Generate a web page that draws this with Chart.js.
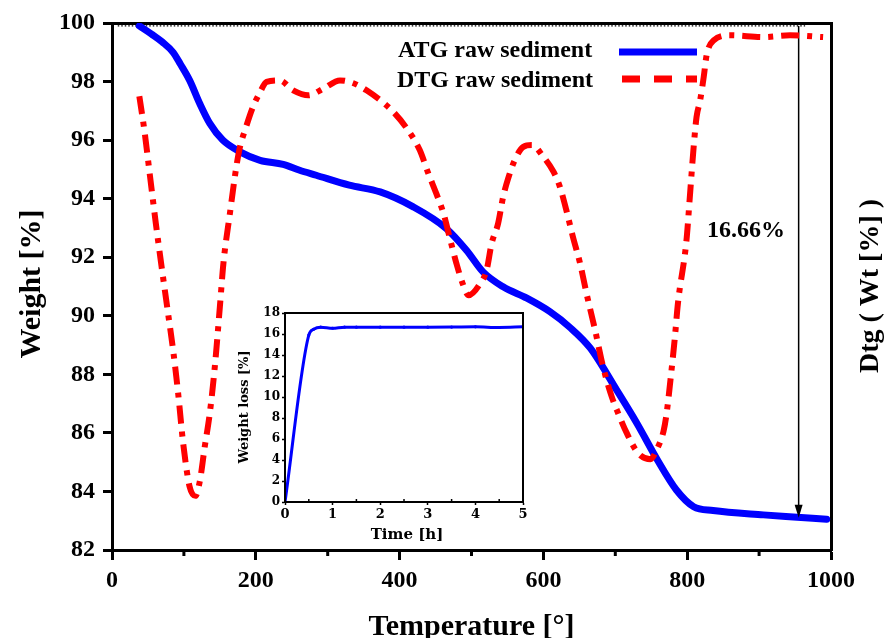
<!DOCTYPE html>
<html><head><meta charset="utf-8">
<script src="https://cdn.jsdelivr.net/npm/chart.js@4"></script>
<style>
html,body{margin:0;padding:0;background:#fff;}
#wrap{position:relative;width:884px;height:638px;overflow:hidden;}
#main{position:absolute;left:0;top:0;}
#inset{position:absolute;left:230px;top:300px;}
</style></head><body>
<div id="wrap">
<canvas id="main" width="884" height="638"></canvas>
<canvas id="inset" width="300" height="250"></canvas>
</div>
<script>
// ---- Main chart data ----
const temperatureATG = [38, 55, 70, 85, 95, 108, 122, 136, 154, 178, 206, 238, 261, 284, 330, 373, 419, 465, 493, 516, 544, 577, 609, 637, 665, 702, 730, 758, 785, 809, 836, 906, 953, 994];
const weightATG = [99.9, 99.62, 99.35, 99.0, 98.6, 98.04, 97.25, 96.57, 96.0, 95.6, 95.31, 95.17, 94.97, 94.8, 94.46, 94.23, 93.72, 92.98, 92.24, 91.5, 90.99, 90.6, 90.14, 89.6, 88.9, 87.46, 86.33, 85.1, 84.05, 83.48, 83.35, 83.2, 83.12, 83.05];

const temperatureDTG = [38, 45, 53, 61, 69, 78, 85, 92, 99, 108, 116, 122, 129, 136, 143, 150, 155, 164, 173, 178, 185, 196, 205, 215, 233, 252, 273, 294, 317, 335, 354, 389, 410, 428, 440, 451, 461, 470, 479, 488, 496, 512, 521, 528, 537, 544, 551, 560, 572, 584, 600, 614, 623, 632, 641, 651, 660, 672, 683, 695, 704, 716, 732, 749, 758, 767, 771, 778, 783, 787, 799, 804, 809, 813, 818, 823, 827, 837, 860, 906, 943, 989];
const valueDTG = [97.5, 96.34, 94.74, 93.15, 91.67, 90.08, 88.83, 87.35, 85.64, 84.16, 83.85, 84.33, 85.53, 86.67, 88.26, 90.3, 91.8, 93.5, 95.1, 95.77, 96.34, 97.13, 97.59, 97.99, 98.04, 97.7, 97.53, 97.76, 98.04, 97.95, 97.7, 97.02, 96.4, 95.66, 94.86, 94.18, 93.5, 92.64, 91.79, 91.08, 90.7, 91.1, 91.56, 92.47, 93.15, 94.06, 94.69, 95.31, 95.77, 95.83, 95.43, 94.92, 94.4, 93.6, 92.7, 91.79, 90.76, 89.5, 88.26, 87.24, 86.67, 85.99, 85.3, 85.1, 85.45, 86.05, 86.6, 88.1, 89.3, 90.4, 92.58, 94.17, 95.77, 96.79, 97.36, 98.16, 98.9, 99.41, 99.58, 99.52, 99.58, 99.52];

// reference (dotted) line & arrow marking the 16.66% loss
const refLineTemps = [8, 964];
const refLineLevel = 99.9;
const arrowTemp = 955;
const arrowFrom = 99.9;
const arrowTo = 83.1;
const lossLabel = "16.66%";

const xTicks = [0, 200, 400, 600, 800, 1000];
const xMinorTicks = [100, 300, 500, 700, 900];
const yTicks = [82, 84, 86, 88, 90, 92, 94, 96, 98, 100];

// ---- Inset data ----
const insetTime = [0, 0.5, 0.6, 0.75, 1, 1.25, 1.5, 2, 2.5, 3, 3.5, 4, 4.5, 5];
const insetLoss = [0, 15.9, 16.45, 16.65, 16.55, 16.65, 16.65, 16.65, 16.65, 16.65, 16.66, 16.68, 16.62, 16.68];
const insetXTicks = [0, 1, 2, 3, 4, 5];
const insetYTicks = [0, 2, 4, 6, 8, 10, 12, 14, 16, 18];

const SERIF = "'Liberation Serif', 'Times New Roman', serif";
const DJV = "'DejaVu Serif', serif";

const mainDecor = {
  id: 'mainDecor',
  afterDraw(chart) {
    const ctx = chart.ctx, xs = chart.scales.x, ys = chart.scales.y, ca = chart.chartArea;
    ctx.save();
    // minor x ticks
    ctx.strokeStyle = '#000'; ctx.lineWidth = 3;
    xMinorTicks.forEach(v => {
      const px = xs.getPixelForValue(v);
      ctx.beginPath(); ctx.moveTo(px, ca.bottom); ctx.lineTo(px, ca.bottom + 6); ctx.stroke();
    });
    // arrow head
    const ax = xs.getPixelForValue(arrowTemp), ay = ys.getPixelForValue(arrowTo);
    ctx.fillStyle = '#000';
    ctx.beginPath(); ctx.moveTo(ax, ay); ctx.lineTo(ax - 4, ay - 13); ctx.lineTo(ax + 4, ay - 13); ctx.closePath(); ctx.fill();
    // axis titles
    ctx.fillStyle = '#000';
    ctx.font = "bold 30px " + SERIF;
    ctx.textAlign = 'center'; ctx.textBaseline = 'alphabetic';
    ctx.fillText('Temperature [°]', (ca.left + ca.right) / 2, 635);
    ctx.save(); ctx.translate(40, 284); ctx.rotate(-Math.PI / 2);
    ctx.fillText('Weight [%]', 0, 0); ctx.restore();
    ctx.save(); ctx.font = "bold 28px " + SERIF; ctx.translate(878, 286); ctx.rotate(-Math.PI / 2);
    ctx.fillText('Dtg ( Wt [%] )', 0, 0); ctx.restore();
    // legend
    ctx.font = "bold 24px " + SERIF; ctx.textAlign = 'left';
    ctx.fillText('ATG raw sediment', 398, 57);
    ctx.fillText('DTG raw sediment', 397, 87);
    ctx.lineCap = 'butt';
    ctx.strokeStyle = '#0000FF'; ctx.lineWidth = 7;
    ctx.beginPath(); ctx.moveTo(619, 52); ctx.lineTo(697, 52); ctx.stroke();
    ctx.strokeStyle = '#FF0000'; ctx.setLineDash([18, 14]);
    ctx.beginPath(); ctx.moveTo(622, 79); ctx.lineTo(697, 79); ctx.stroke();
    ctx.setLineDash([]);
    // annotation
    ctx.fillStyle = '#000';
    ctx.fillText(lossLabel, 707, 237);
    ctx.restore();
  }
};

const mainData = {
  datasets: [
    { label: 'DTG raw sediment', order: 0,
      data: temperatureDTG.map((t, i) => ({ x: t, y: valueDTG[i] })),
      borderColor: '#FF0000', borderWidth: 6, borderDash: [18, 8, 5, 8], borderCapStyle: 'butt',
      pointRadius: 0, cubicInterpolationMode: 'monotone', fill: false },
    { label: 'ATG raw sediment', order: 1,
      data: temperatureATG.map((t, i) => ({ x: t, y: weightATG[i] })),
      borderColor: '#0000FF', borderWidth: 7, borderCapStyle: 'round',
      pointRadius: 0, cubicInterpolationMode: 'monotone', fill: false },
    { label: 'ref', order: 2,
      data: refLineTemps.map(t => ({ x: t, y: refLineLevel })),
      borderColor: '#000', borderWidth: 1.3, borderDash: [1.5, 2], pointRadius: 0, fill: false },
    { label: 'arrow', order: 2,
      data: [{ x: arrowTemp, y: arrowFrom }, { x: arrowTemp, y: arrowTo + 0.3 }],
      borderColor: '#000', borderWidth: 1.5, pointRadius: 0, fill: false }
  ]
};

new Chart(document.getElementById('main'), {
  type: 'line',
  data: mainData,
  options: {
    responsive: false, animation: false,
    layout: { padding: 0 },
    plugins: { legend: { display: false }, tooltip: { enabled: false } },
    scales: {
      x: { type: 'linear', position: 'bottom', min: 0, max: 1000,
        afterBuildTicks(s) { s.ticks = xTicks.map(v => ({ value: v })); },
        ticks: { font: { family: SERIF, size: 24, weight: 'bold' }, color: '#000', padding: 6, maxRotation: 0,
          callback: v => String(v) },
        grid: { drawOnChartArea: false, tickLength: 10, tickWidth: 3, tickColor: '#000' },
        border: { color: '#000', width: 3 },
        afterFit(s) { s.height = 88; } },
      x2: { type: 'linear', position: 'top', min: 0, max: 1000,
        ticks: { display: false }, grid: { display: false, drawTicks: false },
        border: { color: '#000', width: 3, display: true },
        afterFit(s) { s.height = 23; } },
      y: { type: 'linear', position: 'left', min: 82, max: 100,
        afterBuildTicks(s) { s.ticks = yTicks.map(v => ({ value: v })); },
        ticks: { font: { family: SERIF, size: 24, weight: 'bold' }, color: '#000', padding: 8,
          callback: v => String(v) },
        grid: { drawOnChartArea: false, tickLength: 9, tickWidth: 3, tickColor: '#000' },
        border: { color: '#000', width: 3 },
        afterFit(s) { s.width = 112; } },
      y2: { type: 'linear', position: 'right', min: 0, max: 1,
        ticks: { display: false }, grid: { display: false, drawTicks: false },
        border: { color: '#000', width: 3, display: true },
        afterFit(s) { s.width = 53; } }
    }
  },
  plugins: [mainDecor]
});

const insetDecor = {
  id: 'insetDecor',
  afterDraw(chart) {
    const ctx = chart.ctx, ca = chart.chartArea;
    ctx.save();
    ctx.strokeStyle = '#000'; ctx.lineWidth = 2;
    ctx.strokeRect(ca.left, ca.top, ca.right - ca.left, ca.bottom - ca.top);
    // minor ticks at half hours
    const xs = chart.scales.x;
    ctx.lineWidth = 1.5;
    for (let i = 0; i < insetXTicks.length - 1; i++) {
      const px = xs.getPixelForValue((insetXTicks[i] + insetXTicks[i + 1]) / 2);
      ctx.beginPath(); ctx.moveTo(px, ca.bottom); ctx.lineTo(px, ca.bottom - 3); ctx.stroke();
    }
    ctx.fillStyle = '#000';
    ctx.font = "bold 15px " + DJV;
    ctx.textAlign = 'center'; ctx.textBaseline = 'middle';
    ctx.fillText('Time [h]', 177, 235);
    ctx.save(); ctx.translate(15, 107); ctx.rotate(-Math.PI / 2);
    ctx.font = "bold 13px " + DJV;
    ctx.fillText('Weight loss [%]', 0, 0); ctx.restore();
    ctx.restore();
  }
};

new Chart(document.getElementById('inset'), {
  type: 'line',
  data: { datasets: [{
    data: insetTime.map((t, i) => ({ x: t, y: insetLoss[i] })),
    borderColor: '#0000FF', borderWidth: 3, pointRadius: 1.6, pointBackgroundColor: '#0000FF',
    pointBorderWidth: 0, cubicInterpolationMode: 'monotone', fill: false }] },
  options: {
    responsive: false, animation: false,
    layout: { padding: { top: 13, right: 7, left: 0, bottom: 0 } },
    plugins: { legend: { display: false }, tooltip: { enabled: false } },
    scales: {
      x: { type: 'linear', min: 0, max: 5,
        afterBuildTicks(s) { s.ticks = insetXTicks.map(v => ({ value: v })); },
        ticks: { font: { family: DJV, size: 13, weight: 'bold' }, color: '#000', padding: 2, maxRotation: 0 },
        grid: { drawOnChartArea: false, tickLength: 3, tickWidth: 1.5, tickColor: '#000' },
        border: { color: '#000', width: 2 },
        afterFit(s) { s.height = 48; } },
      y: { type: 'linear', min: 0, max: 18,
        afterBuildTicks(s) { s.ticks = insetYTicks.map(v => ({ value: v })); },
        ticks: { font: { family: DJV, size: 12, weight: 'bold' }, color: '#000', padding: 2 },
        grid: { drawOnChartArea: false, tickLength: 3, tickWidth: 1.5, tickColor: '#000' },
        border: { color: '#000', width: 2 },
        afterFit(s) { s.width = 55; } }
    }
  },
  plugins: [insetDecor]
});
</script>
</body></html>
